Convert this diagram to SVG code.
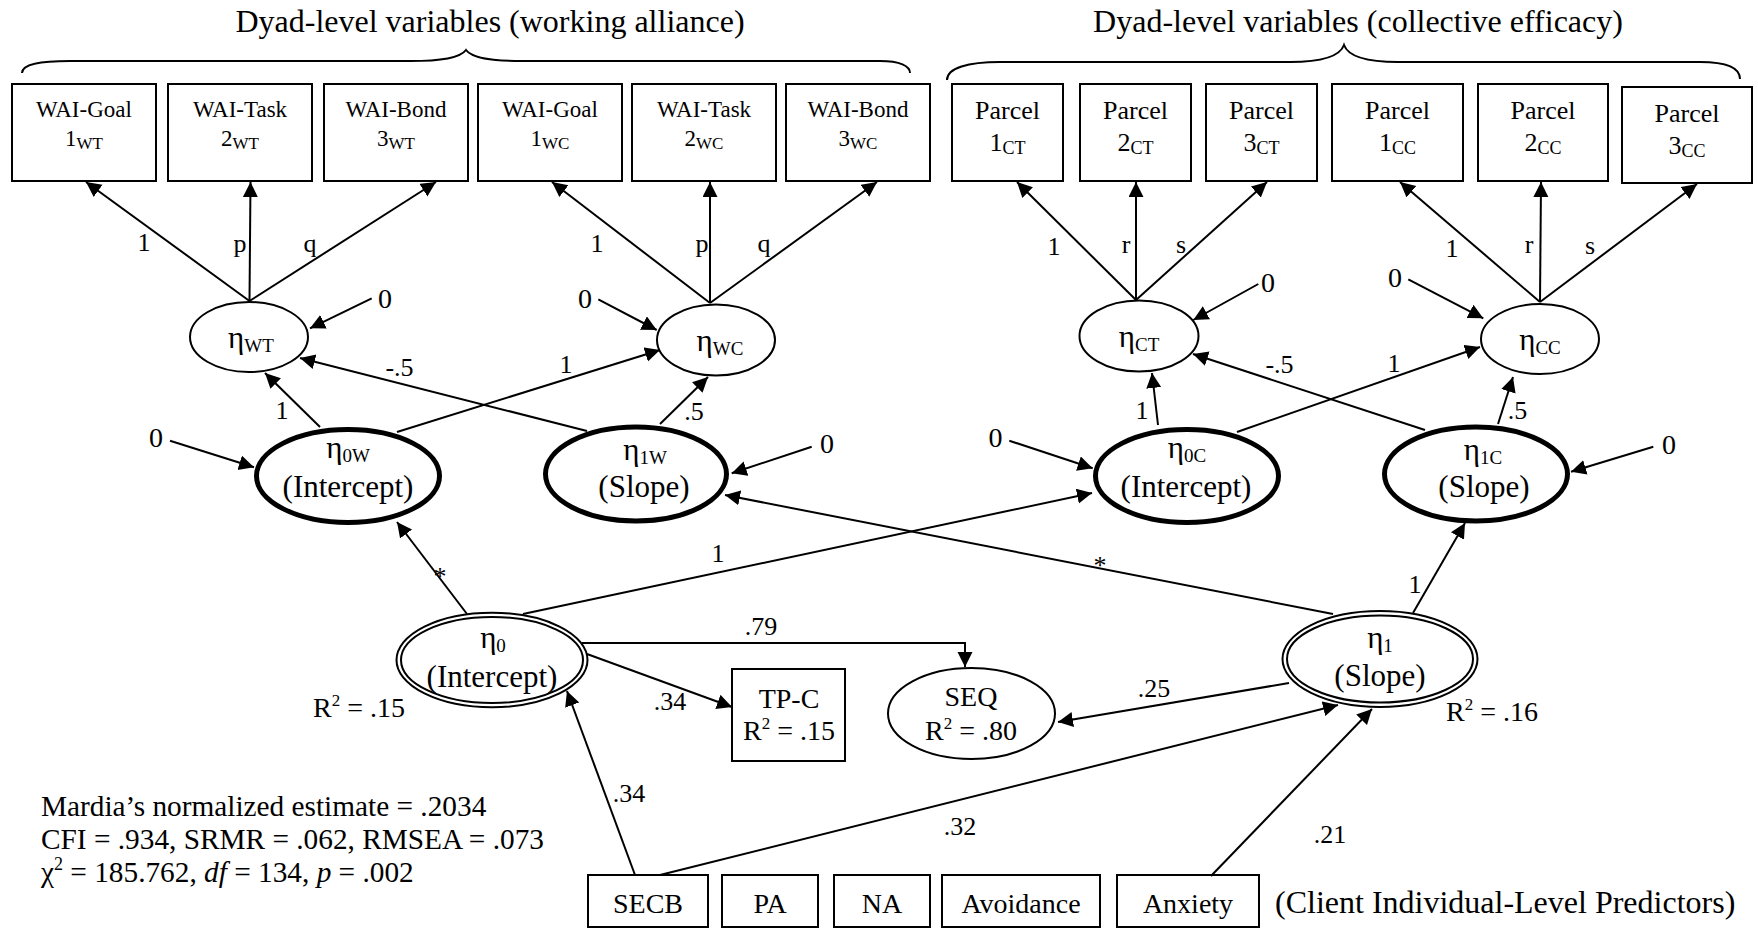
<svg xmlns="http://www.w3.org/2000/svg" width="1758" height="931" viewBox="0 0 1758 931">
<style>
text { font-family: "Liberation Serif", "Times New Roman", serif; fill: #000; }
.title { font-size: 32px; }
.m { text-anchor: middle; }
.box { fill: #fff; stroke: #000; stroke-width: 2; }
.el { fill: #fff; stroke: #000; stroke-width: 2; }
.thick { fill: #fff; stroke: #000; stroke-width: 5; }
.dbl { fill: none; stroke: #000; stroke-width: 2; }
.ln { fill: none; stroke: #000; stroke-width: 2; }
.arr { fill: none; stroke: #000; stroke-width: 2; marker-end: url(#ah); }
.wai { font-size: 23px; }
.waisub { font-size: 17px; }
.par { font-size: 26px; }
.parsub { font-size: 18px; }
.eta { font-size: 31px; }
.etasub { font-size: 19px; }
.big { font-size: 31px; }
.lbl { font-size: 26px; }
.r2 { font-size: 28px; }
.zero { font-size: 28px; }
.pred { font-size: 28px; }
.fit { font-size: 29.3px; }
.sup { font-size: 17px; }
</style>
<defs>
<marker id="ah" markerUnits="userSpaceOnUse" markerWidth="16" markerHeight="16" refX="15" refY="7.5" orient="auto">
<path d="M0,0 L15,7.5 L0,15 z" fill="#000"/>
</marker>
</defs>

<g id="headers">
<text class="title m" x="490" y="32">Dyad-level variables (working alliance)</text>
<text class="title m" x="1358" y="32">Dyad-level variables (collective efficacy)</text>
<path class="ln" d="M22 73 C22 64 40 61 70 61 L410 61 C442 61 460 58 466 50 C472 58 490 61 522 61 L880 61 C900 61 910 66 910 73"/>
<path class="ln" d="M947 80 C947 68 968 62 1000 62 L1290 62 C1322 62 1340 56 1344 45 C1348 56 1366 62 1398 62 L1700 62 C1726 62 1740 68 1740 79"/>
</g>

<g id="wai-goal-wt"><rect class="box" x="12" y="84" width="144" height="97"/><text class="wai m" x="84" y="117">WAI-Goal</text><text class="wai m" x="84" y="146">1<tspan class="waisub" dy="3">WT</tspan></text></g>
<g id="wai-task-wt"><rect class="box" x="168" y="84" width="144" height="97"/><text class="wai m" x="240" y="117">WAI-Task</text><text class="wai m" x="240" y="146">2<tspan class="waisub" dy="3">WT</tspan></text></g>
<g id="wai-bond-wt"><rect class="box" x="324" y="84" width="144" height="97"/><text class="wai m" x="396" y="117">WAI-Bond</text><text class="wai m" x="396" y="146">3<tspan class="waisub" dy="3">WT</tspan></text></g>
<g id="wai-goal-wc"><rect class="box" x="478" y="84" width="144" height="97"/><text class="wai m" x="550" y="117">WAI-Goal</text><text class="wai m" x="550" y="146">1<tspan class="waisub" dy="3">WC</tspan></text></g>
<g id="wai-task-wc"><rect class="box" x="632" y="84" width="144" height="97"/><text class="wai m" x="704" y="117">WAI-Task</text><text class="wai m" x="704" y="146">2<tspan class="waisub" dy="3">WC</tspan></text></g>
<g id="wai-bond-wc"><rect class="box" x="786" y="84" width="144" height="97"/><text class="wai m" x="858" y="117">WAI-Bond</text><text class="wai m" x="858" y="146">3<tspan class="waisub" dy="3">WC</tspan></text></g>

<g id="parcel-1ct"><rect class="box" x="952" y="84" width="111" height="97"/><text class="par m" x="1007.5" y="119">Parcel</text><text class="par m" x="1007.5" y="151">1<tspan class="parsub" dy="3">CT</tspan></text></g>
<g id="parcel-2ct"><rect class="box" x="1080" y="84" width="111" height="97"/><text class="par m" x="1135.5" y="119">Parcel</text><text class="par m" x="1135.5" y="151">2<tspan class="parsub" dy="3">CT</tspan></text></g>
<g id="parcel-3ct"><rect class="box" x="1206" y="84" width="111" height="97"/><text class="par m" x="1261.5" y="119">Parcel</text><text class="par m" x="1261.5" y="151">3<tspan class="parsub" dy="3">CT</tspan></text></g>
<g id="parcel-1cc"><rect class="box" x="1332" y="84" width="131" height="97"/><text class="par m" x="1397.5" y="119">Parcel</text><text class="par m" x="1397.5" y="151">1<tspan class="parsub" dy="3">CC</tspan></text></g>
<g id="parcel-2cc"><rect class="box" x="1478" y="84" width="130" height="97"/><text class="par m" x="1543" y="119">Parcel</text><text class="par m" x="1543" y="151">2<tspan class="parsub" dy="3">CC</tspan></text></g>
<g id="parcel-3cc"><rect class="box" x="1622" y="87" width="130" height="96"/><text class="par m" x="1687" y="122">Parcel</text><text class="par m" x="1687" y="154">3<tspan class="parsub" dy="3">CC</tspan></text></g>

<g id="eta-wt"><ellipse class="el" cx="249" cy="337" rx="59" ry="35"/><text class="eta m" x="251" y="348">η<tspan class="etasub" dy="4">WT</tspan></text></g>
<g id="eta-wc"><ellipse class="el" cx="716" cy="340" rx="59" ry="35.5"/><text class="eta m" x="720" y="351">η<tspan class="etasub" dy="4">WC</tspan></text></g>
<g id="eta-ct"><ellipse class="el" cx="1139" cy="336" rx="59.5" ry="35.5"/><text class="eta m" x="1139" y="347">η<tspan class="etasub" dy="4">CT</tspan></text></g>
<g id="eta-cc"><ellipse class="el" cx="1540" cy="339" rx="59" ry="35"/><text class="eta m" x="1540" y="350">η<tspan class="etasub" dy="4">CC</tspan></text></g>

<g id="eta-0w"><ellipse class="thick" cx="348" cy="476" rx="91.5" ry="46.5"/><text class="eta m" x="348" y="458">η<tspan class="etasub" dy="4">0W</tspan></text><text class="big m" x="348" y="497">(Intercept)</text></g>
<g id="eta-1w"><ellipse class="thick" cx="636" cy="474" rx="90.5" ry="47"/><text class="eta m" x="645" y="460">η<tspan class="etasub" dy="4">1W</tspan></text><text class="big m" x="644" y="497">(Slope)</text></g>
<g id="eta-0c"><ellipse class="thick" cx="1187" cy="476" rx="91.5" ry="46.5"/><text class="eta m" x="1187" y="458">η<tspan class="etasub" dy="4">0C</tspan></text><text class="big m" x="1186" y="497">(Intercept)</text></g>
<g id="eta-1c"><ellipse class="thick" cx="1476" cy="474" rx="91.5" ry="47"/><text class="eta m" x="1483" y="460">η<tspan class="etasub" dy="4">1C</tspan></text><text class="big m" x="1484" y="497">(Slope)</text></g>

<g id="eta-0"><ellipse class="el" cx="492" cy="660" rx="95.5" ry="47.3"/><ellipse class="dbl" cx="492" cy="660" rx="91" ry="43"/><text class="eta m" x="493" y="648">η<tspan class="etasub" dy="4">0</tspan></text><text class="big m" x="492" y="687">(Intercept)</text></g>
<g id="eta-1"><ellipse class="el" cx="1380" cy="659" rx="97.5" ry="48"/><ellipse class="dbl" cx="1380" cy="659" rx="93" ry="43.5"/><text class="eta m" x="1380" y="648">η<tspan class="etasub" dy="4">1</tspan></text><text class="big m" x="1380" y="686">(Slope)</text></g>

<g id="tp-c"><rect class="box" x="732" y="669" width="113" height="92"/><text class="r2 m" x="789" y="708">TP-C</text><text class="r2 m" x="789" y="740">R<tspan class="sup" dy="-11">2</tspan><tspan dy="11"> = .15</tspan></text></g>
<g id="seq"><ellipse class="el" cx="971.5" cy="713.5" rx="83.5" ry="45.5"/><text class="r2 m" x="971" y="706">SEQ</text><text class="r2 m" x="971" y="740">R<tspan class="sup" dy="-11">2</tspan><tspan dy="11"> = .80</tspan></text></g>

<g id="secb"><rect class="box" x="588" y="875" width="120" height="52"/><text class="pred m" x="648" y="913">SECB</text></g>
<g id="pa"><rect class="box" x="722" y="875" width="96" height="52"/><text class="pred m" x="770" y="913">PA</text></g>
<g id="na"><rect class="box" x="834" y="875" width="96" height="52"/><text class="pred m" x="882" y="913">NA</text></g>
<g id="avoidance"><rect class="box" x="942" y="875" width="158" height="52"/><text class="pred m" x="1021" y="913">Avoidance</text></g>
<g id="anxiety"><rect class="box" x="1117" y="875" width="142" height="52"/><text class="pred m" x="1188" y="913">Anxiety</text></g>
<text class="pred" x="1275" y="913" style="font-size:32px">(Client Individual-Level Predictors)</text>

<g id="fit">
<text class="fit" x="41" y="816">Mardia’s normalized estimate = .2034</text>
<text class="fit" x="41" y="849">CFI = .934, SRMR = .062, RMSEA = .073</text>
<text class="fit" x="41" y="882">χ<tspan class="sup" dy="-12" style="font-size:18px">2</tspan><tspan dy="12"> = 185.762, </tspan><tspan font-style="italic">df</tspan> = 134, <tspan font-style="italic">p</tspan> = .002</text>
</g>

<g id="connectors">
<line class="arr" x1="249.5" y1="301" x2="86" y2="182"/>
<line class="arr" x1="249.5" y1="301" x2="250.5" y2="182"/>
<line class="arr" x1="249.5" y1="301" x2="436" y2="182"/>
<line class="arr" x1="710" y1="303" x2="552" y2="182"/>
<line class="arr" x1="710" y1="303" x2="710" y2="182"/>
<line class="arr" x1="710" y1="303" x2="877" y2="182"/>
<line class="arr" x1="1136" y1="300" x2="1017" y2="182"/>
<line class="arr" x1="1136" y1="300" x2="1136" y2="182"/>
<line class="arr" x1="1136" y1="300" x2="1267" y2="182"/>
<line class="arr" x1="1540" y1="302" x2="1400" y2="182"/>
<line class="arr" x1="1540" y1="302" x2="1541" y2="182"/>
<line class="arr" x1="1540" y1="302" x2="1697" y2="184"/>

<line class="arr" x1="371.7" y1="298.3" x2="310" y2="328.3"/>
<line class="arr" x1="598.3" y1="299.3" x2="656.7" y2="330"/>
<line class="arr" x1="1258.3" y1="284" x2="1193.3" y2="320"/>
<line class="arr" x1="1408.3" y1="279.3" x2="1483.3" y2="318.3"/>
<line class="arr" x1="170" y1="440.7" x2="254" y2="467.3"/>
<line class="arr" x1="811.7" y1="446.7" x2="731.7" y2="473.3"/>
<line class="arr" x1="1009.3" y1="440.7" x2="1092.7" y2="468.3"/>
<line class="arr" x1="1653.3" y1="446.7" x2="1571" y2="471.7"/>

<line class="arr" x1="320" y1="427" x2="265" y2="373"/>
<line class="arr" x1="397" y1="432" x2="660" y2="350"/>
<line class="arr" x1="587" y1="431" x2="300" y2="358"/>
<line class="arr" x1="660" y1="424" x2="708" y2="377"/>
<line class="arr" x1="1158" y1="425" x2="1152" y2="373"/>
<line class="arr" x1="1237" y1="432" x2="1480" y2="347"/>
<line class="arr" x1="1425" y1="430" x2="1193" y2="354"/>
<line class="arr" x1="1498" y1="424" x2="1513" y2="377"/>

<line class="arr" x1="467" y1="614" x2="397" y2="522"/>
<line class="arr" x1="523" y1="614" x2="1092" y2="493"/>
<line class="arr" x1="1333" y1="614" x2="725" y2="495"/>
<line class="arr" x1="1413" y1="613" x2="1465" y2="523"/>
<path class="arr" d="M582 643 H965 V667"/>
<line class="arr" x1="587" y1="654" x2="732" y2="707"/>
<line class="arr" x1="1289" y1="683" x2="1058" y2="722"/>
<line class="arr" x1="635" y1="875" x2="567" y2="691"/>
<line class="arr" x1="660" y1="875" x2="1338" y2="705"/>
<line class="arr" x1="1211" y1="876" x2="1372" y2="709"/>
</g>

<g id="labels">
<text class="lbl m" x="144" y="251">1</text>
<text class="lbl m" x="240" y="252">p</text>
<text class="lbl m" x="310" y="252">q</text>
<text class="lbl m" x="597" y="252">1</text>
<text class="lbl m" x="702" y="252">p</text>
<text class="lbl m" x="764" y="252">q</text>
<text class="lbl m" x="1054" y="255">1</text>
<text class="lbl m" x="1126" y="253">r</text>
<text class="lbl m" x="1181" y="253">s</text>
<text class="lbl m" x="1452" y="257">1</text>
<text class="lbl m" x="1529" y="253">r</text>
<text class="lbl m" x="1590" y="254">s</text>

<text class="zero m" x="385" y="308">0</text>
<text class="zero m" x="585" y="308">0</text>
<text class="zero m" x="1268" y="292">0</text>
<text class="zero m" x="1395" y="287">0</text>
<text class="zero m" x="156" y="447">0</text>
<text class="zero m" x="827" y="453">0</text>
<text class="zero m" x="995.5" y="447">0</text>
<text class="zero m" x="1669" y="454">0</text>

<text class="lbl m" x="399.5" y="376">-.5</text>
<text class="lbl m" x="1279.5" y="373">-.5</text>
<text class="lbl m" x="566" y="373">1</text>
<text class="lbl m" x="1394" y="372">1</text>
<text class="lbl m" x="282" y="419">1</text>
<text class="lbl m" x="1142" y="419">1</text>
<text class="lbl m" x="694" y="420">.5</text>
<text class="lbl m" x="1517.5" y="419">.5</text>

<text class="lbl m" x="440" y="585">*</text>
<text class="lbl m" x="718" y="562">1</text>
<text class="lbl m" x="1100" y="574">*</text>
<text class="lbl m" x="1415" y="593">1</text>
<text class="lbl m" x="761" y="635">.79</text>
<text class="lbl m" x="670" y="710">.34</text>
<text class="lbl m" x="1154" y="697">.25</text>
<text class="lbl m" x="629" y="802">.34</text>
<text class="lbl m" x="960" y="835">.32</text>
<text class="lbl m" x="1330" y="843">.21</text>
<text class="r2" x="313" y="717">R<tspan class="sup" dy="-11">2</tspan><tspan dy="11"> = .15</tspan></text>
<text class="r2" x="1446" y="721">R<tspan class="sup" dy="-11">2</tspan><tspan dy="11"> = .16</tspan></text>
</g>
</svg>
